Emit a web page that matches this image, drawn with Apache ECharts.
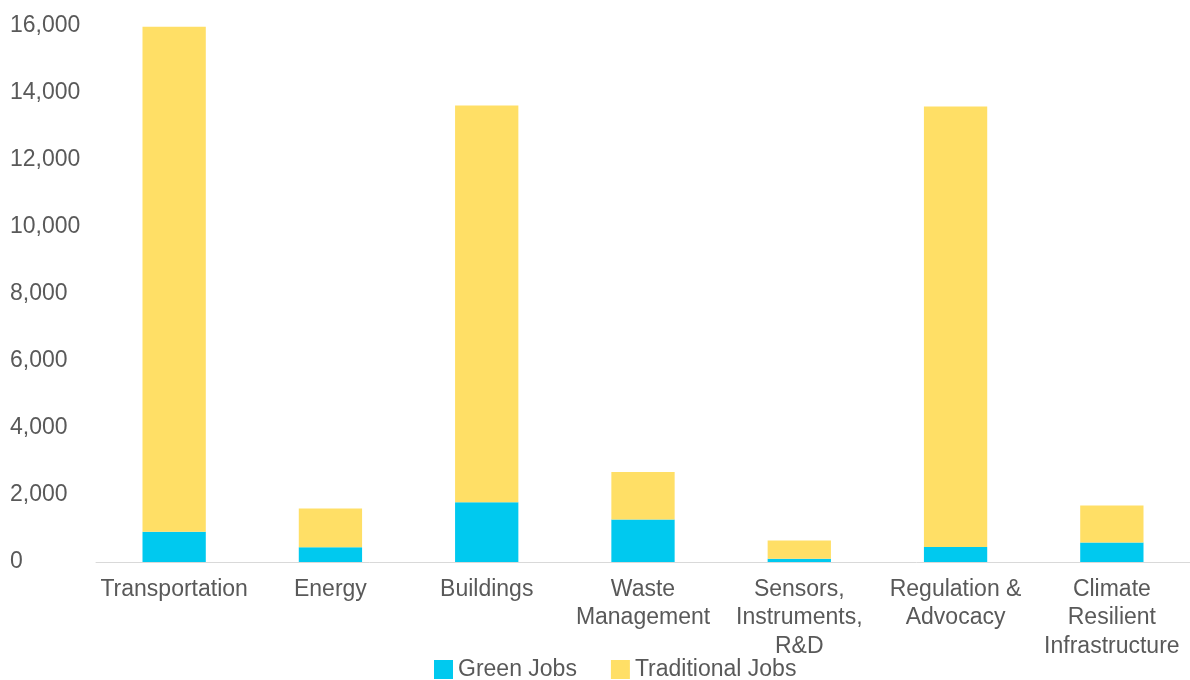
<!DOCTYPE html>
<html>
<head>
<meta charset="utf-8">
<script src="https://cdn.jsdelivr.net/npm/echarts@6/dist/echarts.min.js"></script>
<style>
html,body{margin:0;padding:0;background:#fff;}
#chart{width:1190px;height:680px;}
</style>
</head>
<body>
<div id="chart"></div>
<script>
const categories = ["Transportation", "Energy", "Buildings", "Waste\nManagement", "Sensors,\nInstruments,\nR&D", "Regulation &\nAdvocacy", "Climate\nResilient\nInfrastructure"];
const greenJobs = [900, 440, 1780, 1270, 100, 450, 580];
const traditionalJobs = [15080, 1160, 11850, 1420, 540, 13150, 1110];
const yTicks = [0, 2000, 4000, 6000, 8000, 10000, 12000, 14000, 16000];

const font = '"Liberation Sans", Arial, sans-serif';
const chart = echarts.init(document.getElementById('chart'));
chart.setOption({
  animation: false,
  grid: { left: 96, top: 26, width: 1099, height: 536, containLabel: false },
  legend: {
    data: ['Green Jobs', 'Traditional Jobs'],
    left: 429, top: 653,
    itemWidth: 19, itemHeight: 19, itemGap: 34,
    icon: 'rect',
    textStyle: { fontFamily: font, fontSize: 23, color: '#595959' }
  },
  xAxis: {
    type: 'category',
    data: categories,
    axisLine: { lineStyle: { color: '#D9D9D9', width: 1 } },
    axisTick: { show: false },
    axisLabel: { interval: 0, margin: 13, fontFamily: font, fontSize: 23, lineHeight: 28.5, color: '#595959' }
  },
  yAxis: {
    type: 'value',
    min: yTicks[0], max: yTicks[yTicks.length - 1], interval: 2000,
    axisLine: { show: false },
    axisTick: { show: false },
    splitLine: { show: false },
    axisLabel: {
      align: 'left', margin: 86,
      fontFamily: font, fontSize: 23, color: '#595959',
      formatter: v => v.toLocaleString('en-US')
    }
  },
  series: [
    { name: 'Green Jobs', type: 'bar', stack: 'jobs', data: greenJobs, barWidth: '40.5%', itemStyle: { color: '#00C9EF' } },
    { name: 'Traditional Jobs', type: 'bar', stack: 'jobs', data: traditionalJobs, barWidth: '40.5%', itemStyle: { color: '#FFDF66' } }
  ]
});
</script>
</body>
</html>
